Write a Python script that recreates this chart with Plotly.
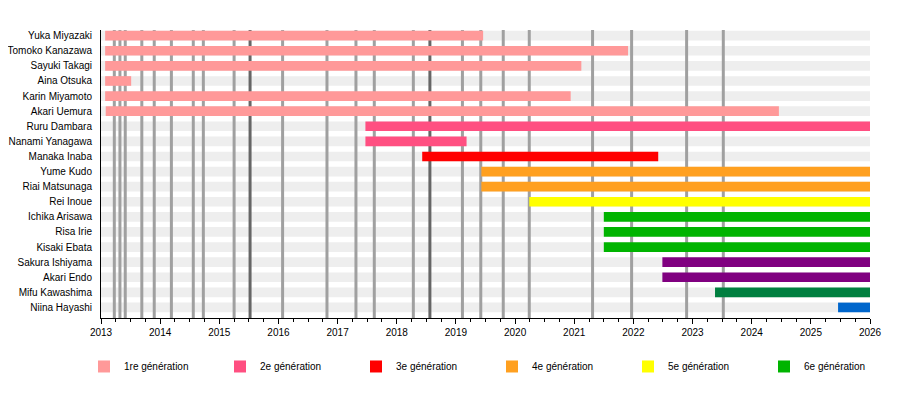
import plotly.graph_objects as go

# ---------------- data ----------------
members = [
    "Yuka Miyazaki", "Tomoko Kanazawa", "Sayuki Takagi", "Aina Otsuka",
    "Karin Miyamoto", "Akari Uemura", "Ruru Dambara", "Nanami Yanagawa",
    "Manaka Inaba", "Yume Kudo", "Riai Matsunaga", "Rei Inoue",
    "Ichika Arisawa", "Risa Irie", "Kisaki Ebata", "Sakura Ishiyama",
    "Akari Endo", "Mifu Kawashima", "Niina Hayashi",
]
# membership periods in decimal years (None = still active)
starts = [2013.07, 2013.07, 2013.07, 2013.07, 2013.07, 2013.08, 2017.47, 2017.47,
          2018.43, 2019.43, 2019.43, 2020.24, 2021.50, 2021.50, 2021.50, 2022.49,
          2022.49, 2023.38, 2025.46]
ends = [2019.46, 2021.91, 2021.12, 2013.51, 2020.94, 2024.46, None, 2019.18,
        2022.42, None, None, None, None, None, None, None,
        None, None, None]
generation = [1, 1, 1, 1, 1, 1, 2, 2, 3, 4, 4, 5, 6, 6, 6, 7, 7, 8, 9]

gen_labels = {1: "1re génération", 2: "2e génération", 3: "3e génération",
              4: "4e génération", 5: "5e génération", 6: "6e génération",
              7: "7e génération", 8: "8e génération", 9: "9e génération"}
gen_colors = {1: "#ff9999", 2: "#ff4f81", 3: "#ff0000", 4: "#ffa020",
              5: "#ffff00", 6: "#00b400", 7: "#800080", 8: "#007f3f", 9: "#0066cc"}
legend_gens = [1, 2, 3, 4, 5, 6]

# event markers (vertical lines), decimal years; dark = major events
event_dates = [2013.225, 2013.32, 2013.41, 2013.69, 2013.90, 2014.19, 2014.56,
               2014.73, 2015.25, 2015.52, 2016.07, 2016.82, 2017.31, 2017.62,
               2018.28, 2018.56, 2019.11, 2019.42, 2019.80, 2020.24, 2021.31,
               2021.97, 2022.90, 2023.52]
event_dark = [2015.52, 2018.56]

x_start, x_end = 2013, 2026
y_range = [18.70, -0.377]
year_ticks = list(range(2013, 2027))

# ---------------- figure ----------------
fig = go.Figure()
rows = list(range(len(members)))

shapes = []
for i in rows:
    shapes.append(dict(type="rect", xref="x", yref="y", x0=x_start, x1=x_end,
                       y0=i - 0.32, y1=i + 0.32, fillcolor="#eeeeee",
                       line_width=0, layer="below"))
for d in event_dates:
    dark = d in event_dark
    shapes.append(dict(type="line", xref="x", yref="y", x0=d, x1=d,
                       y0=y_range[1], y1=y_range[0],
                       line=dict(color="#666666" if dark else "#a0a0a0", width=3),
                       layer="below"))

for g in sorted(gen_colors):
    idx = [i for i in rows if generation[i] == g]
    b = [starts[i] for i in idx]
    e = [(ends[i] if ends[i] is not None else x_end) for i in idx]
    fig.add_trace(go.Bar(
        orientation="h", y=idx, base=b, x=[ee - bb for bb, ee in zip(b, e)],
        width=0.64, marker=dict(color=gen_colors[g], line_width=0),
        name=gen_labels[g], showlegend=g in legend_gens,
        hovertext=[members[i] for i in idx],
    ))

# page has an 8px body margin, so the figure is sized/offset to compensate
fig.update_layout(
    width=884, height=382,
    margin=dict(l=93, r=22, t=22, b=72, autoexpand=False),
    paper_bgcolor="white", plot_bgcolor="white",
    font=dict(family="Liberation Sans, Arial, sans-serif", size=10, color="black"),
    shapes=shapes,
    barmode="overlay",
    showlegend=True,
    legend=dict(orientation="h", x=-0.0221, xanchor="left",
                y=-0.118, yanchor="top",
                entrywidth=91, entrywidthmode="pixels",
                font=dict(size=10), bgcolor="rgba(0,0,0,0)"),
    xaxis=dict(range=[x_start, x_end], tickvals=year_ticks,
               ticktext=[str(y) for y in year_ticks], automargin=False,
               showgrid=False, zeroline=False, showline=True, linecolor="black",
               linewidth=1, ticks="outside", ticklen=5, tickcolor="black",
               minor=dict(dtick=0.25, tick0=2013, ticks="outside", ticklen=3,
                          tickcolor="black", showgrid=False)),
    yaxis=dict(range=y_range, tickvals=rows, ticktext=members, automargin=False,
               showgrid=False, zeroline=False, showline=True, linecolor="black",
               linewidth=1, ticks="", ticklabelstandoff=6),
)

fig.write_html("out.html")
